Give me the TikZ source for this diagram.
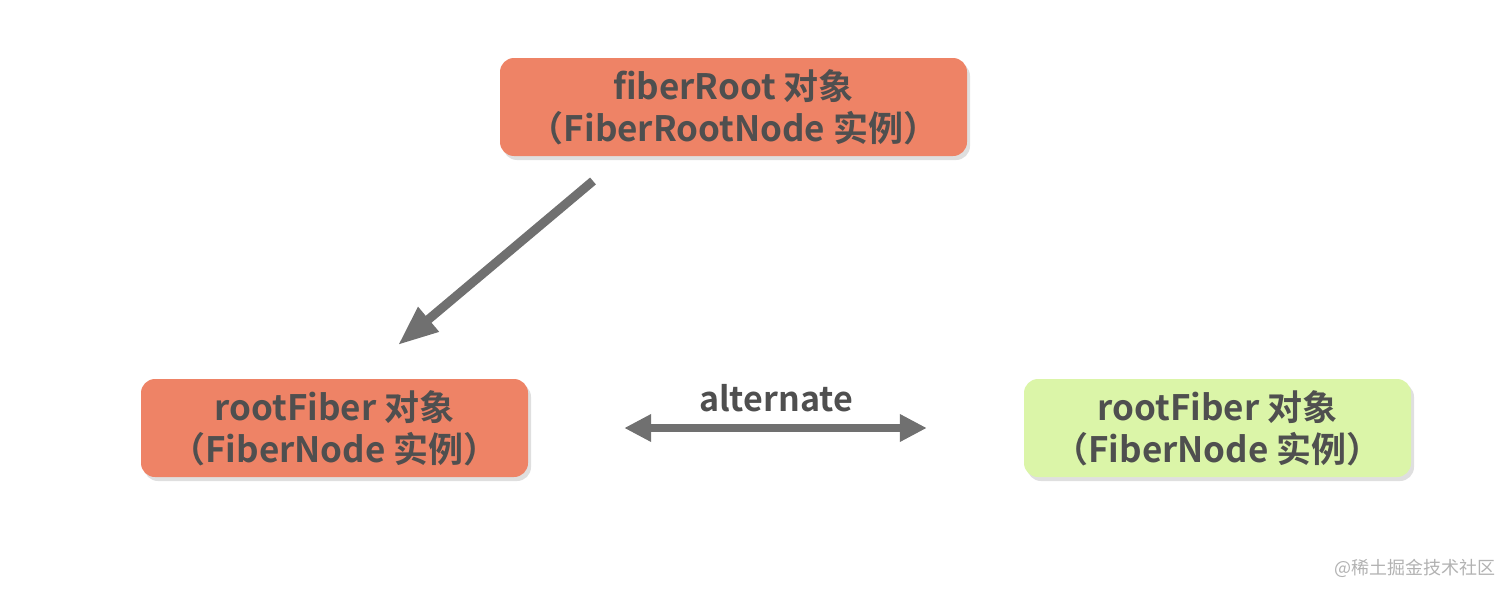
\documentclass[tikz,border=0pt]{standalone}
\usepackage{fontspec}
\setmainfont{Noto Sans CJK SC}[BoldFont={Noto Sans CJK SC Bold}]
\usetikzlibrary{positioning,arrows.meta,shadows}
\definecolor{boxorange}{HTML}{EE8366}
\definecolor{boxgreen}{HTML}{DBF5A8}
\definecolor{txtgray}{HTML}{4F4F4F}
\definecolor{arrgray}{HTML}{707070}
\begin{document}
\begin{tikzpicture}[x=1pt, y=1pt,
  main/.style = {rounded corners=14pt, minimum height=98pt, align=center,
    text=txtgray, font=\fontsize{35}{42}\selectfont\bfseries,
    drop shadow={shadow xshift=3pt, shadow yshift=-4pt, opacity=0.25}},
  link/.style = {draw=arrgray, line width=9pt}]
  \useasboundingbox (0,0) rectangle (1512,-597);
  \node[main] (1) [fill=boxorange, minimum width=467pt] at (733.5,-107) {fiberRoot 对象\\（FiberRootNode 实例）};
  \node[main] (2) [fill=boxorange, minimum width=387pt, on grid, below left=321pt and 399pt of 1] {rootFiber 对象\\（FiberNode 实例）};
  \node[main] (3) [fill=boxgreen, minimum width=387pt, on grid, right=883pt of 2] {rootFiber 对象\\（FiberNode 实例）};

  \coordinate (from) at (593,-181);
  \coordinate (to) at (398,-345);
  \draw[link, -{Triangle[length=40pt, width=30pt]}] (from) -- (to);
  \draw[link, line width=8pt, {Triangle[length=27pt, width=26pt]}-{Triangle[length=27pt, width=26pt]}, shorten <=96pt, shorten >=97pt] (2) -- (3)
    node[midway, above=9pt, text=txtgray, font=\fontsize{34}{40}\selectfont\bfseries] (alt) {alternate};

  \node[text=black!30, font=\fontsize{18}{22}\selectfont] (mark) at (1415,-568) {@稀土掘金技术社区};
\end{tikzpicture}
\end{document}
